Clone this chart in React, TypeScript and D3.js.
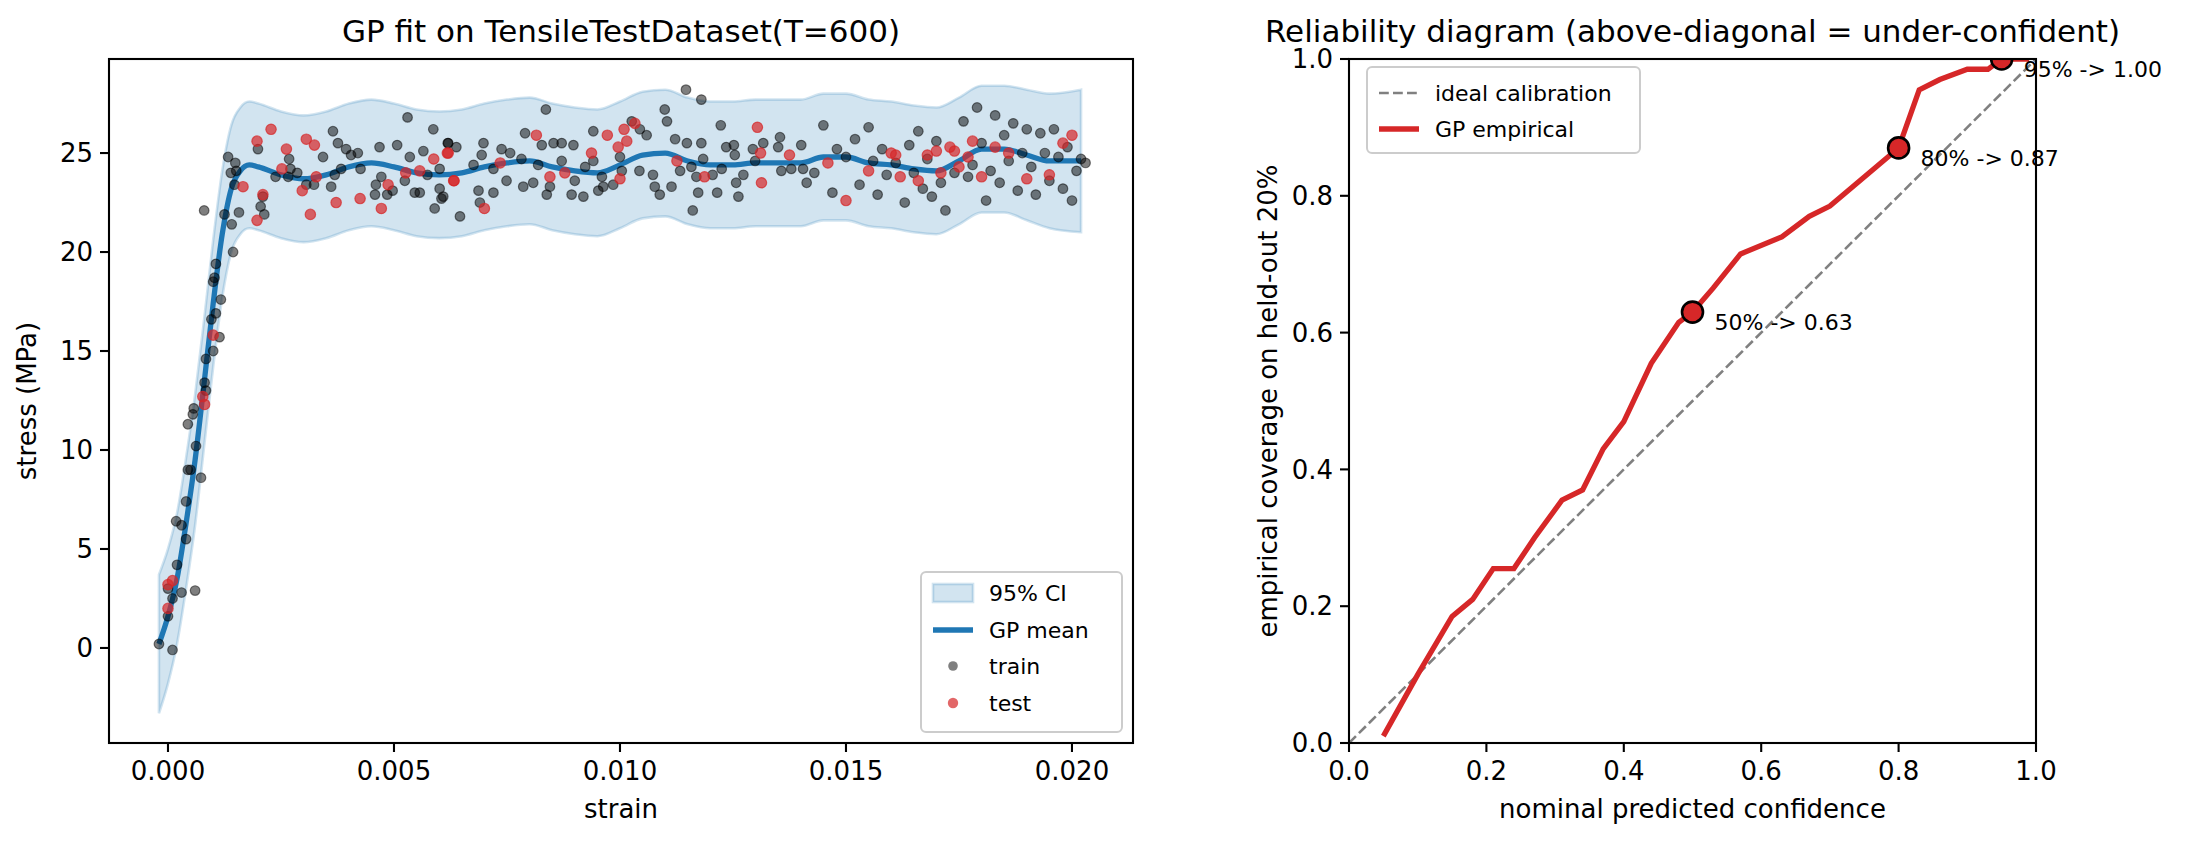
import React from "react";
import * as d3 from "d3";

// GP posterior mean and 95% half-width
const gpStrain = [-0.0002, 0, 0.0002, 0.0004, 0.0006, 0.0008, 0.001, 0.0012, 0.0014, 0.0016, 0.0018, 0.002, 0.0025, 0.003, 0.0035, 0.004, 0.0045, 0.005, 0.0055, 0.006, 0.0065, 0.007, 0.0075, 0.008, 0.0085, 0.009, 0.0095, 0.01, 0.0105, 0.011, 0.0115, 0.012, 0.0125, 0.013, 0.0135, 0.014, 0.0145, 0.015, 0.0155, 0.016, 0.0165, 0.017, 0.0175, 0.018, 0.0185, 0.019, 0.0195, 0.0202];
const gpMean = [0.2, 1.6, 3.5, 6.3, 9.5, 13.4, 17.4, 20.9, 23.2, 24.1, 24.4, 24.3, 23.9, 23.7, 23.9, 24.3, 24.5, 24.3, 24.0, 23.9, 24.0, 24.3, 24.5, 24.6, 24.3, 24.1, 24.0, 24.4, 24.9, 25.0, 24.6, 24.4, 24.4, 24.5, 24.5, 24.5, 24.8, 24.8, 24.5, 24.4, 24.2, 24.1, 24.6, 25.2, 25.2, 24.9, 24.6, 24.6];
const gpHalf = [3.5, 3.4, 3.3, 3.3, 3.3, 3.2, 3.2, 3.2, 3.2, 3.2, 3.2, 3.2, 3.2, 3.2, 3.2, 3.2, 3.2, 3.2, 3.2, 3.2, 3.2, 3.2, 3.2, 3.2, 3.2, 3.2, 3.2, 3.2, 3.2, 3.2, 3.2, 3.2, 3.2, 3.2, 3.2, 3.2, 3.2, 3.2, 3.2, 3.2, 3.2, 3.2, 3.2, 3.2, 3.2, 3.3, 3.4, 3.6];

const trainPts: [number, number][] = [
  [-0.0002, 0.2], [0.0001, -0.1], [0.0, 1.6], [0.0, 3.0], [0.0001, 2.5], [0.0003, 2.8], [0.0002, 4.2], [0.0003, 6.2], [0.0006, 2.9], [0.0004, 5.5],
  [0.00018, 6.4], [0.0004, 7.4], [0.00044, 9.0], [0.0005, 9.0], [0.00073, 8.6], [0.00062, 10.2], [0.00044, 11.3], [0.00055, 11.8], [0.00057, 12.1], [0.00081, 13.4],
  [0.00084, 13.0], [0.00084, 14.6], [0.001, 15.0], [0.00114, 15.7], [0.00096, 16.6], [0.00106, 16.9], [0.00117, 17.6], [0.001, 18.5], [0.00103, 18.7], [0.00106, 19.4],
  [0.00144, 20.0], [0.0008, 22.1], [0.00125, 21.9], [0.00141, 21.4], [0.00133, 24.8], [0.00139, 24.0], [0.00149, 24.5], [0.00151, 24.1], [0.00147, 23.4], [0.00157, 22.0],
  [0.00199, 25.2], [0.00205, 22.3], [0.00213, 21.9], [0.0021, 22.8], [0.00238, 23.8], [0.00268, 24.7], [0.00271, 24.2], [0.00266, 23.8], [0.00286, 24.0], [0.00306, 23.4],
  [0.00323, 23.4], [0.00343, 24.8], [0.00361, 23.3], [0.00365, 26.1], [0.00376, 25.5], [0.00383, 24.2], [0.00369, 23.9], [0.00394, 25.2], [0.00405, 24.9], [0.0042, 25.0],
  [0.00426, 24.2], [0.00458, 22.9], [0.0046, 23.4], [0.00468, 25.3], [0.00472, 23.8], [0.00485, 22.9], [0.00497, 23.1], [0.00507, 25.4], [0.0053, 26.8], [0.00524, 23.6],
  [0.00535, 24.8], [0.00546, 23.0], [0.00557, 23.0], [0.00565, 25.1], [0.00574, 23.9], [0.00587, 26.2], [0.0059, 22.2], [0.00601, 23.2], [0.00605, 22.7], [0.00619, 25.5],
  [0.00601, 24.2], [0.0062, 25.5], [0.00638, 25.3], [0.00609, 22.8], [0.00646, 21.8], [0.00676, 24.4], [0.00694, 24.9], [0.00698, 25.5], [0.00687, 23.1], [0.0069, 22.5],
  [0.0072, 23.0], [0.0072, 24.2], [0.00738, 25.2], [0.00749, 23.6], [0.00757, 25.0], [0.00782, 24.7], [0.0079, 26.0], [0.00786, 23.3], [0.00808, 23.5], [0.00819, 24.4],
  [0.00827, 25.4], [0.00836, 27.2], [0.00838, 22.9], [0.00845, 23.3], [0.00853, 25.5], [0.00871, 25.5], [0.00871, 24.6], [0.00893, 22.9], [0.00897, 25.4], [0.009, 23.6],
  [0.00919, 22.8], [0.00923, 24.3], [0.00941, 26.1], [0.00941, 24.6], [0.00952, 23.1], [0.00963, 23.3], [0.0096, 23.8], [0.00985, 23.4], [0.01, 24.8], [0.01004, 24.1],
  [0.01026, 26.6], [0.01044, 26.2], [0.01059, 25.9], [0.01043, 24.1], [0.01077, 23.3], [0.01073, 23.9], [0.01088, 22.9], [0.01099, 27.2], [0.01104, 26.6], [0.01114, 23.3],
  [0.01122, 25.7], [0.01133, 24.1], [0.01148, 25.5], [0.01146, 28.2], [0.0118, 27.7], [0.01158, 24.3], [0.01169, 23.8], [0.01173, 23.0], [0.0118, 25.5], [0.01184, 24.7],
  [0.01161, 22.1], [0.01205, 23.9], [0.01215, 23.0], [0.01223, 26.4], [0.01225, 24.2], [0.01235, 25.3], [0.01252, 25.4], [0.01254, 24.9], [0.01257, 23.5], [0.01262, 22.8],
  [0.01273, 23.9], [0.01294, 25.2], [0.01299, 24.6], [0.01317, 25.5], [0.01354, 25.8], [0.0135, 25.3], [0.01357, 24.1], [0.01379, 24.2], [0.01401, 25.4], [0.01405, 24.2],
  [0.01413, 23.5], [0.0143, 24.0], [0.0145, 26.4], [0.0147, 23.0], [0.0148, 25.2], [0.015, 24.8], [0.0152, 25.7], [0.0153, 23.4], [0.0155, 26.3], [0.0156, 24.6],
  [0.0157, 22.9], [0.0158, 25.2], [0.0159, 23.9], [0.0161, 24.5], [0.0163, 22.5], [0.0164, 25.4], [0.0165, 24.0], [0.0166, 26.1], [0.0167, 23.2], [0.0168, 24.7],
  [0.0169, 22.8], [0.017, 25.6], [0.0171, 23.5], [0.0172, 22.1], [0.0174, 24.0], [0.0176, 26.6], [0.0177, 23.8], [0.0178, 24.4], [0.0179, 27.3], [0.018, 25.5],
  [0.0181, 22.6], [0.0182, 24.1], [0.0183, 26.9], [0.0184, 23.5], [0.0185, 25.9], [0.0186, 24.6], [0.0187, 26.5], [0.0188, 23.1], [0.0189, 25.0], [0.019, 26.2],
  [0.0191, 24.3], [0.0192, 22.9], [0.0193, 26.0], [0.0194, 25.0], [0.0195, 23.6], [0.0196, 26.2], [0.0197, 24.8], [0.0198, 23.2], [0.0199, 25.3], [0.02, 22.6],
  [0.0201, 24.1], [0.0202, 24.7], [0.0203, 24.5],
];

const testPts: [number, number][] = [
  [0.0, 2.0], [0.0001, 3.4], [0.0, 3.2], [0.00077, 12.7], [0.00081, 12.3], [0.001, 15.8], [0.00166, 23.3], [0.00197, 25.6], [0.00197, 21.6], [0.0021, 22.9],
  [0.00228, 26.2], [0.00252, 24.2], [0.00262, 25.2], [0.00297, 23.1], [0.00306, 25.7], [0.00315, 21.9], [0.00324, 25.4], [0.00328, 23.8], [0.00372, 22.5], [0.00425, 22.7],
  [0.00472, 22.2], [0.00487, 23.4], [0.00526, 24.0], [0.00557, 24.1], [0.00588, 24.7], [0.00618, 25.0], [0.00632, 23.6], [0.0062, 25.0], [0.00633, 23.6], [0.007, 22.2],
  [0.00735, 24.5], [0.00815, 25.9], [0.00845, 23.8], [0.00878, 24.0], [0.00937, 25.0], [0.00972, 25.9], [0.00996, 25.3], [0.01009, 26.2], [0.01015, 25.6], [0.01033, 26.5],
  [0.01, 23.7], [0.01126, 24.6], [0.01187, 23.8], [0.01304, 26.3], [0.01311, 25.0], [0.01313, 23.5], [0.01375, 24.9], [0.0146, 24.5], [0.015, 22.6], [0.0155, 24.1],
  [0.016, 25.0], [0.0161, 24.9], [0.0162, 23.8], [0.0166, 23.6], [0.0168, 24.9], [0.017, 25.1], [0.0171, 24.0], [0.0173, 25.3], [0.0174, 25.1], [0.0175, 24.3],
  [0.0177, 24.8], [0.0178, 25.6], [0.018, 23.8], [0.0183, 25.3], [0.0186, 25.0], [0.019, 23.7], [0.0195, 23.9], [0.0198, 25.5], [0.02, 25.9],
];

const strainTicks = [0, 0.005, 0.01, 0.015, 0.02];
const stressTicks = [0, 5, 10, 15, 20, 25];
const relTicks = [0, 0.2, 0.4, 0.6, 0.8, 1.0];

// reliability curve
const nominal = [0.05, 0.1, 0.15, 0.18, 0.21, 0.24, 0.27, 0.31, 0.34, 0.37, 0.4, 0.44, 0.48, 0.5, 0.53, 0.57, 0.63, 0.67, 0.7, 0.8, 0.83, 0.86, 0.9, 0.93, 0.95, 0.99];
const empirical = [0.01, 0.1, 0.185, 0.21, 0.255, 0.255, 0.3, 0.355, 0.37, 0.43, 0.47, 0.555, 0.615, 0.63, 0.665, 0.715, 0.74, 0.77, 0.785, 0.87, 0.955, 0.97, 0.985, 0.985, 1.0, 1.0];
const marked = [
  { c: 0.5, e: 0.63, label: "50% -> 0.63" },
  { c: 0.8, e: 0.87, label: "80% -> 0.87" },
  { c: 0.95, e: 1.0, label: "95% -> 1.00" },
];

const FONT = "DejaVu Sans, sans-serif";
const BLUE = "#1f77b4";
const RED = "#d62728";

const L = { x0: 109, x1: 1133, y0: 59, y1: 743 };
const R = { x0: 1349, x1: 2036, y0: 59, y1: 743 };

export default function App() {
  const x = d3.scaleLinear().domain([-0.001305, 0.02135]).range([L.x0, L.x1]);
  const y = d3.scaleLinear().domain([-4.8, 29.75]).range([L.y1, L.y0]);
  const rx = d3.scaleLinear().domain([0, 1]).range([R.x0, R.x1]);
  const ry = d3.scaleLinear().domain([0, 1]).range([R.y1, R.y0]);

  const idx = gpStrain.map((_, i) => i);
  const band = d3.area<number>()
    .x((i) => x(gpStrain[i]))
    .y0((i) => y(gpMean[i] - gpHalf[i]))
    .y1((i) => y(gpMean[i] + gpHalf[i]))
    .curve(d3.curveMonotoneX);
  const meanLine = d3.line<number>().x((i) => x(gpStrain[i])).y((i) => y(gpMean[i])).curve(d3.curveMonotoneX);
  const relLine = d3.line<number>().x((i) => rx(nominal[i])).y((i) => ry(empirical[i]));

  const tick = { fontSize: 26, fontFamily: FONT, fill: "#000" } as const;

  return (
    <svg width={2187} height={843} style={{ display: "block", position: "absolute", left: 0, top: 0, background: "#fff" }} fontFamily={FONT}>
      <defs>
        <clipPath id="clipL"><rect x={L.x0} y={L.y0} width={L.x1 - L.x0} height={L.y1 - L.y0} /></clipPath>
        <clipPath id="clipR"><rect x={R.x0} y={R.y0} width={R.x1 - R.x0} height={R.y1 - R.y0} /></clipPath>
      </defs>

      {/* left panel */}
      <g clipPath="url(#clipL)">
        <path d={band(idx) ?? ""} fill={BLUE} fillOpacity={0.2} stroke={BLUE} strokeOpacity={0.2} strokeWidth={2.6} />
        <path d={meanLine(idx) ?? ""} fill="none" stroke={BLUE} strokeWidth={5.3} />
        {trainPts.map((p, i) => (
          <circle key={"t" + i} cx={x(p[0])} cy={y(p[1])} r={4.8} fill="#000" fillOpacity={0.5} stroke="#000" strokeOpacity={0.5} strokeWidth={1.2} />
        ))}
        {testPts.map((p, i) => (
          <circle key={"s" + i} cx={x(p[0])} cy={y(p[1])} r={5.2} fill={RED} fillOpacity={0.7} stroke={RED} strokeOpacity={0.7} strokeWidth={1.2} />
        ))}
      </g>
      <rect x={L.x0} y={L.y0} width={L.x1 - L.x0} height={L.y1 - L.y0} fill="none" stroke="#000" strokeWidth={2.1} />
      {strainTicks.map((t) => (
        <g key={t} transform={`translate(${x(t)},${L.y1})`}>
          <line y2={9} stroke="#000" strokeWidth={2.1} />
          <text y={37} textAnchor="middle" style={tick}>{t.toFixed(3)}</text>
        </g>
      ))}
      {stressTicks.map((t) => (
        <g key={t} transform={`translate(${L.x0},${y(t)})`}>
          <line x2={-9} stroke="#000" strokeWidth={2.1} />
          <text x={-16} dy="0.35em" textAnchor="end" style={tick}>{t}</text>
        </g>
      ))}
      <text x={(L.x0 + L.x1) / 2} y={818} textAnchor="middle" fontSize={26}>strain</text>
      <text transform={`translate(36,${(L.y0 + L.y1) / 2}) rotate(-90)`} textAnchor="middle" fontSize={26}>stress (MPa)</text>
      <text x={(L.x0 + L.x1) / 2} y={42} textAnchor="middle" fontSize={31}>GP fit on TensileTestDataset(T=600)</text>

      {/* left legend */}
      <g transform="translate(921,572)">
        <rect width={201} height={160} rx={5} fill="#fff" fillOpacity={0.8} stroke="#ccc" strokeWidth={2} />
        <rect x={12} y={12} width={40} height={18} fill={BLUE} fillOpacity={0.2} stroke={BLUE} strokeOpacity={0.2} strokeWidth={2.6} />
        <text x={68} y={29} fontSize={22}>95% CI</text>
        <line x1={12} x2={52} y1={58} y2={58} stroke={BLUE} strokeWidth={5.3} />
        <text x={68} y={66} fontSize={22}>GP mean</text>
        <circle cx={32} cy={94} r={4.8} fill="#000" fillOpacity={0.5} />
        <text x={68} y={102} fontSize={22}>train</text>
        <circle cx={32} cy={131} r={5.2} fill={RED} fillOpacity={0.7} />
        <text x={68} y={139} fontSize={22}>test</text>
      </g>

      {/* right panel */}
      <g clipPath="url(#clipR)">
        <line x1={rx(0)} y1={ry(0)} x2={rx(1)} y2={ry(1)} stroke="#808080" strokeWidth={2.6} strokeDasharray="9.8,4.2" />
        <path d={relLine(nominal.map((_, i) => i)) ?? ""} fill="none" stroke={RED} strokeWidth={5.3} />
        {marked.map((m) => (
          <circle key={m.label} cx={rx(m.c)} cy={ry(m.e)} r={10.5} fill={RED} stroke="#000" strokeWidth={2.6} />
        ))}
      </g>
      {marked.map((m) => (
        <text key={m.label} x={rx(m.c) + 22} y={ry(m.e) + 18} fontSize={22}>{m.label}</text>
      ))}
      <rect x={R.x0} y={R.y0} width={R.x1 - R.x0} height={R.y1 - R.y0} fill="none" stroke="#000" strokeWidth={2.1} />
      {relTicks.map((t) => (
        <g key={"x" + t} transform={`translate(${rx(t)},${R.y1})`}>
          <line y2={9} stroke="#000" strokeWidth={2.1} />
          <text y={37} textAnchor="middle" style={tick}>{t.toFixed(1)}</text>
        </g>
      ))}
      {relTicks.map((t) => (
        <g key={"y" + t} transform={`translate(${R.x0},${ry(t)})`}>
          <line x2={-9} stroke="#000" strokeWidth={2.1} />
          <text x={-16} dy="0.35em" textAnchor="end" style={tick}>{t.toFixed(1)}</text>
        </g>
      ))}
      <text x={(R.x0 + R.x1) / 2} y={818} textAnchor="middle" fontSize={26}>nominal predicted confidence</text>
      <text transform={`translate(1277,${(R.y0 + R.y1) / 2}) rotate(-90)`} textAnchor="middle" fontSize={26}>empirical coverage on held-out 20%</text>
      <text x={(R.x0 + R.x1) / 2} y={42} textAnchor="middle" fontSize={31}>Reliability diagram (above-diagonal = under-confident)</text>

      {/* right legend */}
      <g transform="translate(1367,67)">
        <rect width={273} height={86} rx={5} fill="#fff" fillOpacity={0.8} stroke="#ccc" strokeWidth={2} />
        <line x1={12} x2={52} y1={26} y2={26} stroke="#808080" strokeWidth={2.6} strokeDasharray="9.8,4.2" />
        <text x={68} y={34} fontSize={22}>ideal calibration</text>
        <line x1={12} x2={52} y1={62} y2={62} stroke={RED} strokeWidth={5.3} />
        <text x={68} y={70} fontSize={22}>GP empirical</text>
      </g>
    </svg>
  );
}
